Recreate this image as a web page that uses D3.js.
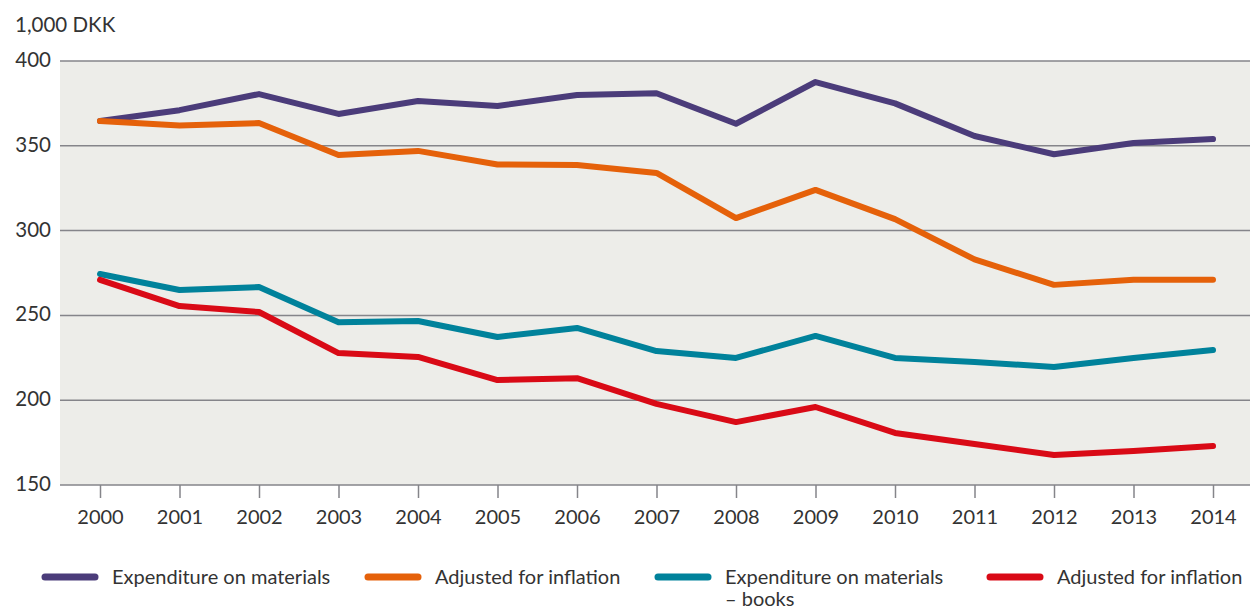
<!DOCTYPE html>
<html>
<head>
<meta charset="utf-8">
<script src="https://cdn.jsdelivr.net/npm/d3@7"></script>
<style>
  body { margin: 0; background: #fff; }
  svg text { font-family: Lato, "Open Sans", sans-serif; fill: #333; }
</style>
</head>
<body>
<svg id="vis" width="1250" height="610"></svg>
<script>
const years = d3.range(2000, 2015);
const materials = [364.6, 371, 380.5, 368.8, 376.4, 373.5, 380, 381, 363, 387.6, 375, 355.8, 345, 351.7, 354];
const materialsAdj = [364.6, 362, 363.4, 344.6, 347, 339, 338.7, 334, 307.4, 324, 306.8, 283, 268, 271, 271];
const books = [274.4, 265, 266.7, 246, 246.7, 237.3, 242.6, 229, 224.9, 237.9, 224.9, 222.5, 219.6, 224.9, 229.6];
const booksAdj = [270.9, 255.5, 252, 227.8, 225.5, 211.9, 213, 197.8, 187.1, 196, 180.7, 174.2, 167.7, 170, 173];
const yTicks = [150, 200, 250, 300, 350, 400];

const series = [
  {name: ["Expenditure on materials"], values: materials, color: "#4b3c7a", lx: 42},
  {name: ["Adjusted for inflation"], values: materialsAdj, color: "#e5610a", lx: 365},
  {name: ["Expenditure on materials", "– books"], values: books, color: "#00829b", lx: 655},
  {name: ["Adjusted for inflation"], values: booksAdj, color: "#d90a16", lx: 987},
];

const svg = d3.select("#vis");
const plot = {left: 60, right: 1250, top: 61, bottom: 485};

const x = d3.scaleLinear().domain([2000, 2014]).range([100, 1213]);
const y = d3.scaleLinear().domain([150, 400]).range([plot.bottom, plot.top]);

svg.append("rect")
  .attr("x", plot.left).attr("y", plot.top)
  .attr("width", plot.right - plot.left).attr("height", plot.bottom - plot.top)
  .attr("fill", "#ededE9");

// gridlines + y labels
svg.append("g")
  .selectAll("line")
  .data(yTicks)
  .join("line")
  .attr("x1", plot.left).attr("x2", plot.right)
  .attr("y1", d => y(d)).attr("y2", d => y(d))
  .attr("stroke", "#85858a").attr("stroke-width", 1.5);

svg.append("g")
  .selectAll("text")
  .data(yTicks)
  .join("text")
  .attr("x", 51).attr("y", d => y(d) + 6)
  .attr("text-anchor", "end")
  .attr("font-size", 20.5)
  .text(d => d);

svg.append("text")
  .attr("x", 15).attr("y", 32)
  .attr("font-size", 20.5)
  .text("1,000 DKK");

// x axis
const xAxis = svg.append("g")
  .attr("transform", `translate(0,${plot.bottom})`)
  .call(d3.axisBottom(x).tickValues(years).tickFormat(d3.format("d")).tickSize(13).tickPadding(12));
xAxis.select(".domain").remove();
xAxis.selectAll("line").attr("stroke", "#85858a").attr("stroke-width", 1.5);
xAxis.selectAll("text").attr("font-size", 20).attr("fill", "#333")
  .attr("font-family", "Lato, 'Open Sans', sans-serif");

// lines
const line = d3.line().x((d, i) => x(years[i])).y(d => y(d));
svg.append("g")
  .selectAll("path")
  .data(series)
  .join("path")
  .attr("d", d => line(d.values))
  .attr("fill", "none")
  .attr("stroke", d => d.color)
  .attr("stroke-width", 6)
  .attr("stroke-linecap", "round")
  .attr("stroke-linejoin", "round");

// legend
const leg = svg.append("g")
  .selectAll("g")
  .data(series)
  .join("g")
  .attr("transform", d => `translate(${d.lx},577)`);
leg.append("line")
  .attr("x1", 3).attr("x2", 53)
  .attr("stroke", d => d.color)
  .attr("stroke-width", 7)
  .attr("stroke-linecap", "round");
leg.append("text")
  .attr("x", 70).attr("y", 7)
  .attr("font-size", 20)
  .selectAll("tspan")
  .data(d => d.name)
  .join("tspan")
  .attr("x", 70)
  .attr("dy", (d, i) => i ? 22 : 0)
  .text(d => d);
</script>
</body>
</html>
